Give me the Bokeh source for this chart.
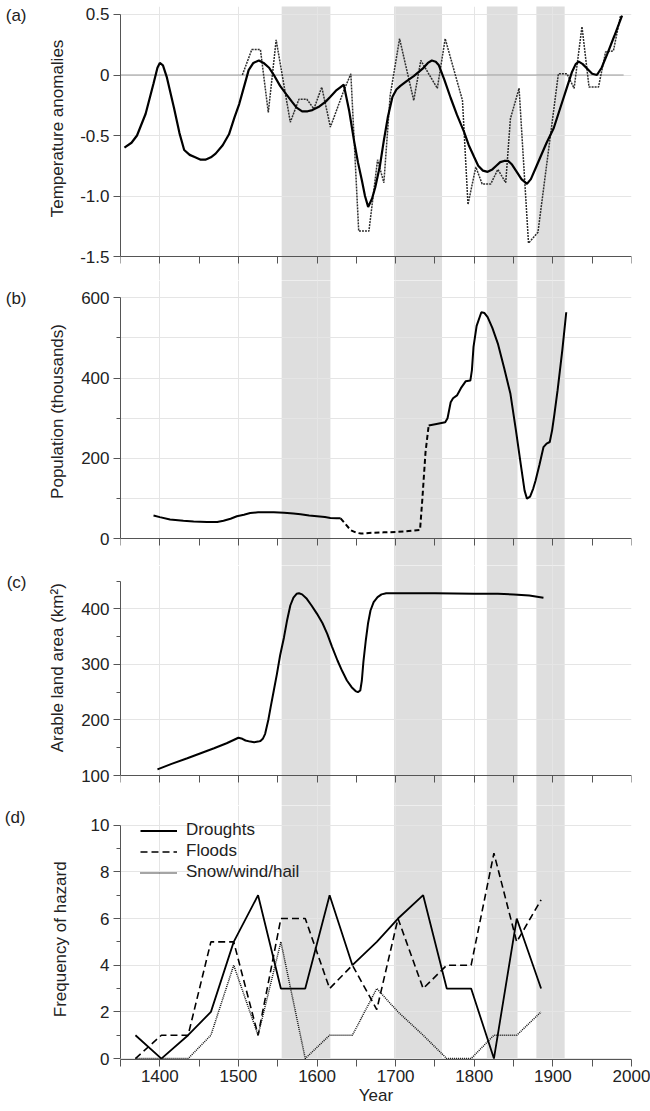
from bokeh.plotting import figure
from bokeh.models import Range1d, LinearAxis, FixedTicker, Legend, LegendItem
from bokeh.layouts import column
from bokeh.embed import file_html
from bokeh.resources import INLINE

# ---------------- data ----------------
band_start = [1555, 1698, 1816, 1879]
band_end = [1617, 1759, 1855, 1915]

x_ticks = [1350, 1400, 1450, 1500, 1550, 1600, 1650, 1700, 1750, 1800, 1850, 1900, 1950, 2000]
x_tick_labels = ["", "1400", "", "1500", "", "1600", "", "1700", "", "1800", "", "1900", "", "2000"]

# (a) temperature anomalies
temp_smooth_year = [1355, 1364, 1371, 1382, 1392, 1397, 1400, 1404, 1409, 1418, 1425, 1431, 1438, 1445,
                    1452, 1458, 1465, 1471, 1480, 1488, 1495, 1501, 1507, 1513, 1519, 1526, 1532, 1539,
                    1546, 1553, 1561, 1568, 1574, 1581, 1588, 1594, 1603, 1611, 1617, 1624, 1630, 1634,
                    1641, 1647, 1652, 1657, 1661, 1665, 1670, 1674, 1680, 1685, 1690, 1696, 1701, 1706,
                    1714, 1723, 1734, 1741, 1746, 1751, 1755, 1762, 1770, 1778, 1787, 1793, 1800, 1805,
                    1811, 1817, 1823, 1828, 1833, 1838, 1843, 1848, 1853, 1860, 1867, 1872, 1878, 1884,
                    1892, 1901, 1910, 1918, 1924, 1929, 1933, 1938, 1944, 1950, 1956, 1962, 1969, 1978, 1988]
temp_smooth_val = [-0.60, -0.56, -0.50, -0.32, -0.07, 0.06, 0.10, 0.08, -0.02, -0.27, -0.48, -0.62, -0.66, -0.68,
                   -0.70, -0.70, -0.68, -0.65, -0.58, -0.49, -0.35, -0.24, -0.10, 0.04, 0.10, 0.12, 0.10, 0.06,
                   -0.01, -0.09, -0.16, -0.22, -0.27, -0.30, -0.30, -0.29, -0.26, -0.22, -0.18, -0.13, -0.10, -0.08,
                   -0.30, -0.54, -0.72, -0.87, -1.00, -1.09, -1.02, -0.93, -0.75, -0.54, -0.35, -0.18, -0.12, -0.09,
                   -0.05, -0.01, 0.05, 0.10, 0.12, 0.11, 0.08, -0.04, -0.19, -0.33, -0.47, -0.58, -0.68, -0.75,
                   -0.79, -0.80, -0.78, -0.75, -0.72, -0.71, -0.71, -0.74, -0.79, -0.86, -0.90, -0.86, -0.77, -0.68,
                   -0.56, -0.44, -0.26, -0.10, 0.02, 0.09, 0.11, 0.09, 0.05, 0.01, 0.00, 0.06, 0.17, 0.32, 0.49]
temp_obs_year = [1505, 1517, 1528, 1538, 1548, 1566, 1577, 1587, 1596, 1606, 1617, 1634, 1643, 1653, 1666,
                 1677, 1685, 1693, 1705, 1723, 1732, 1753, 1763, 1785, 1792, 1802, 1810, 1821, 1830, 1840,
                 1846, 1857, 1869, 1881, 1907, 1918, 1927, 1937, 1946, 1958, 1967, 1977, 1986]
temp_obs_val = [0.00, 0.21, 0.21, -0.31, 0.29, -0.39, -0.20, -0.20, -0.28, -0.10, -0.43, -0.13, 0.01, -1.29, -1.29,
                -0.70, -0.89, -0.17, 0.30, -0.21, 0.12, -0.11, 0.30, -0.21, -1.07, -0.76, -0.90, -0.90, -0.78, -0.89,
                -0.36, -0.11, -1.39, -1.30, 0.01, 0.01, -0.11, 0.40, -0.10, -0.10, 0.19, 0.20, 0.49]
zero_line_year = [1350, 1990]
zero_line_val = [0, 0]
temp_ticks = [-1.5, -1.0, -0.5, 0.0, 0.5]
temp_tick_labels = ["-1.5", "-1.0", "-0.5", "0", "0.5"]

# (b) population (thousands)
pop_early_year = [1392, 1400, 1413, 1430, 1443, 1460, 1473, 1481, 1490, 1498, 1507, 1515, 1525, 1532, 1545,
                  1558, 1570, 1579, 1590, 1600, 1610, 1617, 1625, 1630]
pop_early_val = [58, 54, 48, 45, 43, 42, 42, 45, 50, 56, 60, 64, 66, 66, 66,
                 65, 63, 61, 58, 56, 54, 52, 51, 51]
pop_gap_year = [1630, 1636, 1643, 1650, 1656, 1670, 1685, 1700, 1710, 1720, 1731, 1734, 1738, 1742]
pop_gap_val = [51, 37, 21, 15, 13, 15, 16, 17, 18, 20, 22, 100, 216, 282]
pop_late_year = [1742, 1752, 1763, 1766, 1770, 1773, 1778, 1783, 1789, 1795, 1797, 1799, 1803, 1809, 1813,
                 1817, 1823, 1830, 1838, 1846, 1853, 1859, 1864, 1867, 1871, 1875, 1878, 1883, 1888, 1892,
                 1896, 1899, 1902, 1906, 1912, 1917]
pop_late_val = [282, 286, 290, 300, 340, 350, 357, 375, 392, 394, 420, 477, 530, 564, 562,
                552, 525, 486, 425, 361, 270, 187, 120, 100, 105, 125, 145, 185, 228, 237,
                241, 270, 311, 370, 470, 564]
pop_ticks = [0, 200, 400, 600]
pop_minor = [100, 300, 500]

# (c) arable land area (km2)
land_year = [1397, 1415, 1435, 1452, 1469, 1485, 1500, 1505, 1509, 1515, 1520, 1525, 1528, 1531, 1534, 1538,
             1541, 1545, 1549, 1553, 1558, 1562, 1566, 1570, 1574, 1577, 1581, 1587, 1593, 1600, 1607, 1613,
             1619, 1626, 1632, 1638, 1644, 1649, 1652, 1655, 1657, 1659, 1662, 1665, 1668, 1672, 1677, 1682,
             1688, 1700, 1750, 1800, 1830, 1850, 1870, 1888]
land_val = [111, 121, 131, 140, 149, 158, 168, 166, 163, 161, 160, 161, 162, 166, 175, 200,
            223, 253, 283, 316, 349, 380, 406, 420, 427, 428, 426, 418, 406, 391, 374, 355,
            332, 307, 288, 271, 259, 252, 250, 253, 271, 305, 343, 375, 397, 412, 421, 426,
            428, 428, 428, 427, 427, 426, 424, 420]
land_ticks = [100, 200, 300, 400]
land_minor = [150, 250, 350, 450]

# (d) frequency of hazard
hazard_year = [1369, 1402, 1436, 1465, 1494, 1525, 1554, 1585, 1616, 1645, 1676, 1703, 1735, 1765, 1796,
               1825, 1854, 1885]
droughts = [1, 0, 1, 2, 5, 7, 3, 3, 7, 4, 5, 6, 7, 3, 3, 0, 6, 3]
floods = [0, 1, 1, 5, 5, 1, 6, 6, 3, 4, 2.1, 6, 3, 4, 4, 8.8, 5, 6.8]
snow = [0, 0, 0, 1, 4, 1, 5, 0, 1, 1, 3, 2, 1, 0, 0, 1, 1, 2]
hazard_ticks = [0, 2, 4, 6, 8, 10]
hazard_minor = [1, 3, 5, 7, 9]

# ---------------- styling ----------------
FONT = "Liberation Sans"
TXT = "#222222"
AXC = "#555555"
BAND = "#dedede"
FS = "17px"
LEFT = 120
RIGHT = 19

x_range = Range1d(1350, 2000)


def base_fig(height, y0, y1, top=0, bottom=0, band_bottom=None):
    p = figure(width=650, height=height, x_range=x_range, y_range=Range1d(y0, y1),
               output_backend="svg", toolbar_location=None, title=None,
               x_axis_location=None, y_axis_location=None,
               min_border_left=LEFT, min_border_right=RIGHT,
               min_border_top=top, min_border_bottom=bottom)
    p.outline_line_color = None
    # shaded periods run over the whole height of the panel (past its edges, clipped by the frame)
    span = y1 - y0
    b = (y0 - span) if band_bottom is None else band_bottom
    p.quad(left=band_start, right=band_end, bottom=b, top=y1 + span,
           fill_color=BAND, line_color=None, level="underlay")
    return p


def x_axis(loc=None, show_labels=False):
    if show_labels:
        overrides = {t: l for t, l in zip(x_ticks, x_tick_labels)}
    else:
        overrides = {t: "" for t in x_ticks}
    ax = LinearAxis(ticker=FixedTicker(ticks=x_ticks), fixed_location=loc,
                    major_label_overrides=overrides,
                    axis_line_color=AXC, major_tick_line_color=AXC,
                    major_tick_out=7, major_tick_in=0, minor_tick_out=0, minor_tick_in=0,
                    major_label_standoff=3,
                    major_label_text_font=FONT, major_label_text_font_size=FS,
                    major_label_text_color=TXT)
    if show_labels:
        ax.axis_label = "Year"
        ax.axis_label_standoff = 1
        ax.axis_label_text_font = FONT
        ax.axis_label_text_font_size = FS
        ax.axis_label_text_font_style = "normal"
        ax.axis_label_text_color = TXT
    return ax


def add_y_axis(p, ticks, labels, minor, bounds):
    ax = LinearAxis(ticker=FixedTicker(ticks=ticks, minor_ticks=minor), bounds=bounds,
                    major_label_overrides={t: l for t, l in zip(ticks, labels)},
                    axis_line_color=AXC, major_tick_line_color=AXC, minor_tick_line_color=AXC,
                    major_tick_out=7, major_tick_in=0, minor_tick_out=4, minor_tick_in=0,
                    major_label_standoff=4,
                    major_label_text_font=FONT, major_label_text_font_size=FS,
                    major_label_text_color=TXT)
    p.add_layout(ax, "left")


def text_axis(p, pos, text, standoff, vertical):
    # a bare axis (no line, no tick marks) whose single tick label carries a text
    ax = LinearAxis(ticker=FixedTicker(ticks=[pos]), major_label_overrides={pos: text},
                    axis_line_color=None, major_tick_line_color=None, minor_tick_line_color=None,
                    major_tick_out=0, major_tick_in=0, minor_tick_out=0, minor_tick_in=0,
                    major_label_standoff=standoff,
                    major_label_orientation=("vertical" if vertical else "horizontal"),
                    major_label_text_font=FONT, major_label_text_font_size=FS,
                    major_label_text_color=TXT)
    p.add_layout(ax, "left")


# (a)
pa = base_fig(280, -1.698, 0.566, top=6)
pa.line(zero_line_year, zero_line_val, line_color="#9a9a9a", line_width=1.2)
pa.line(temp_obs_year, temp_obs_val, line_color="#2e2e2e", line_width=1.5, line_dash="2 1")
pa.line(temp_smooth_year, temp_smooth_val, line_color="black", line_width=2.2)
pa.add_layout(x_axis(-1.5), "below")
add_y_axis(pa, temp_ticks, temp_tick_labels, [], (-1.5, 0.5))
text_axis(pa, -0.442, "Temperature anomalies", 10, True)
text_axis(pa, 0.49, "(a)", 19, False)

# (b)
pb = base_fig(285, -66.5, 643.1)
pb.line(pop_early_year, pop_early_val, line_color="black", line_width=2)
pb.line(pop_gap_year, pop_gap_val, line_color="black", line_width=2, line_dash="5 3")
pb.line(pop_late_year, pop_late_val, line_color="black", line_width=2)
pb.add_layout(x_axis(0), "below")
add_y_axis(pb, pop_ticks, [str(t) for t in pop_ticks], pop_minor, (0, 600))
text_axis(pb, 317, "Population (thousands)", 11, True)
text_axis(pb, 598, "(b)", 19, False)

# (c)
pc = base_fig(240, 46, 478)
pc.line(land_year, land_val, line_color="black", line_width=2)
pc.add_layout(x_axis(100), "below")
add_y_axis(pc, land_ticks, [str(t) for t in land_ticks], land_minor, (100, 450))
text_axis(pc, 294, "Arable land area (km\u00b2)", 11, True)
text_axis(pc, 446.7, "(c)", 19, False)

# (d)
pd_ = base_fig(305, -0.04, 10.843, bottom=51, band_bottom=0)
r_dr = pd_.line(hazard_year, droughts, line_color="black", line_width=1.8)
r_fl = pd_.line(hazard_year, floods, line_color="black", line_width=1.6, line_dash="7 4")
r_sn = pd_.line(hazard_year, snow, line_color="#111111", line_width=1.5, line_dash="1 1")
pd_.add_layout(x_axis(None, show_labels=True), "below")
add_y_axis(pd_, hazard_ticks, [str(t) for t in hazard_ticks], hazard_minor, (0, 10))
text_axis(pd_, 5.11, "Frequency of hazard", 17, True)
text_axis(pd_, 10.33, "(d)", 23, False)
legend = Legend(items=[LegendItem(label="Droughts", renderers=[r_dr]),
                       LegendItem(label="Floods", renderers=[r_fl]),
                       LegendItem(label="Snow/wind/hail", renderers=[r_sn])],
                location=(20, 176.5), glyph_width=37, glyph_height=21, label_height=21,
                label_standoff=9, padding=0, spacing=0, margin=0,
                border_line_color=None, background_fill_alpha=0,
                label_text_font=FONT, label_text_font_size=FS, label_text_color=TXT)
pd_.add_layout(legend)

layout = column(pa, pb, pc, pd_, spacing=0)
open("out.html", "w").write(file_html(layout, INLINE))
